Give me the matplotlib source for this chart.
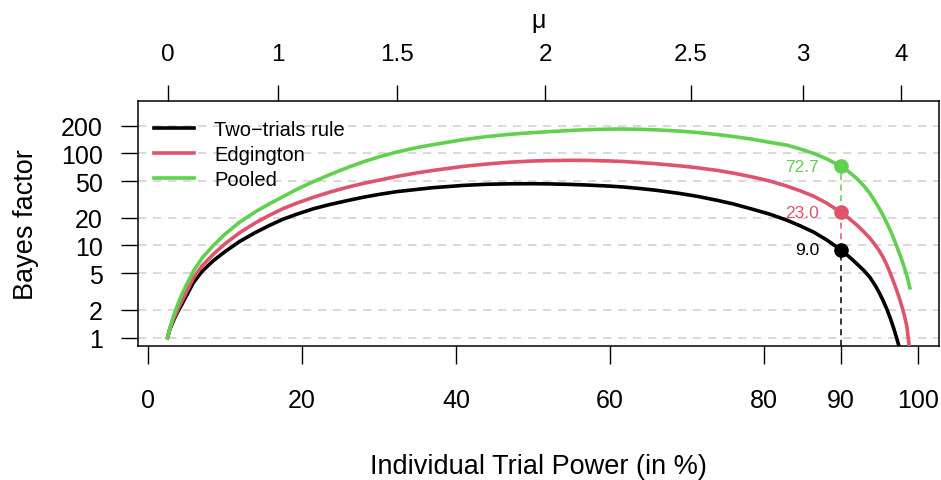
import matplotlib
matplotlib.use("Agg")
import matplotlib.pyplot as plt

plt.rcParams['font.family'] = ['Liberation Sans', 'DejaVu Sans']

# values (power in %, log10 of Bayes factor)
power = [2.5, 2.8, 3.2, 3.7, 4.3, 5.0, 5.85, 7.0, 8.45, 10, 11.9, 13.9, 15.8, 17.5,
         19.3, 21.5, 23.6, 26, 28, 30, 32.3, 35, 37, 41, 44, 47, 50, 52.2, 55, 57,
         60, 61.8, 64, 66, 69.1, 71.3, 74, 76.1, 78.5, 80.8, 83, 84.7, 86.5, 88.2,
         90, 91, 92, 93, 93.8, 94.5, 95, 95.5, 96, 96.5, 96.9, 97.3, 97.7, 98,
         98.3, 98.6, 99.0]
log_bf_two_trials = [0, 0.09, 0.17, 0.26, 0.35, 0.46, 0.595, 0.72, 0.835, 0.935, 1.045, 1.14,
                     1.22, 1.285, 1.34, 1.40, 1.445, 1.49, 1.525, 1.555, 1.585, 1.61, 1.628,
                     1.653, 1.665, 1.67, 1.671, 1.669, 1.663, 1.657, 1.645, 1.635, 1.618,
                     1.6, 1.565, 1.535, 1.49, 1.45, 1.395, 1.34, 1.275, 1.215, 1.145, 1.06,
                     0.954, 0.885, 0.81, 0.73, 0.655, 0.565, 0.49, 0.405, 0.31, 0.2, 0.1,
                     -0.01, -0.13, -0.24, -0.36, -0.5, -0.75]
log_bf_edgington = [0, 0.095, 0.185, 0.28, 0.385, 0.5, 0.645, 0.78, 0.905, 1.02, 1.14, 1.245,
                    1.33, 1.4, 1.46, 1.525, 1.58, 1.635, 1.675, 1.71, 1.75, 1.79, 1.815,
                    1.86, 1.885, 1.905, 1.918, 1.922, 1.925, 1.924, 1.918, 1.912, 1.9,
                    1.888, 1.865, 1.845, 1.815, 1.785, 1.745, 1.7, 1.645, 1.595, 1.535,
                    1.46, 1.362, 1.3, 1.23, 1.15, 1.08, 1.005, 0.945, 0.875, 0.79, 0.69,
                    0.6, 0.51, 0.41, 0.325, 0.235, 0.125, -0.15]
log_bf_pooled = [0, 0.1, 0.215, 0.33, 0.46, 0.58, 0.72, 0.865, 1.0, 1.125, 1.255, 1.365,
                 1.455, 1.53, 1.61, 1.695, 1.77, 1.85, 1.91, 1.963, 2.015, 2.065, 2.095,
                 2.15, 2.183, 2.208, 2.226, 2.237, 2.25, 2.258, 2.264, 2.265, 2.262,
                 2.256, 2.242, 2.228, 2.205, 2.183, 2.155, 2.12, 2.09, 2.05, 2.0,
                 1.94, 1.862, 1.805, 1.735, 1.65, 1.565, 1.475, 1.405, 1.33, 1.245, 1.155,
                 1.075, 0.99, 0.9, 0.83, 0.755, 0.675, 0.54]

labels = ["Two\u2212trials rule", "Edgington", "Pooled"]
colors = ["#000000", "#DF536B", "#61D04F"]

target_power = 90
target_bf = [9.0, 23.0, 72.7]

x_ticks = [0, 20, 40, 60, 80, 90, 100]
y_ticks = [1, 2, 5, 10, 20, 50, 100, 200]
mu_labels = ["0", "1", "1.5", "2", "2.5", "3", "4"]
mu_pos = [2.5, 16.8, 32.3, 51.6, 70.5, 85.1, 97.9]

fig = plt.figure(figsize=(9.41, 4.81), dpi=100)
ax = fig.add_axes([0.1463, 0.2786, 0.998 - 0.1463, 0.7886 - 0.2786])

ax.set_yscale("log")
ax.set_xlim(-1.38, 102.8)
ax.set_ylim(0.81, 374)

for yt in y_ticks:
    ax.axhline(yt, color="#D3D3D3", lw=1.2, ls=(0, (5, 4)), zorder=1)

series = [log_bf_two_trials, log_bf_edgington, log_bf_pooled]
for ys, c, lab in zip(series, colors, labels):
    ax.plot(power, [10 ** v for v in ys], color=c, lw=2.6, label=lab, zorder=3,
            solid_joinstyle="round")

# dashed drop lines at 90% power
bottoms = [0.81, target_bf[0], target_bf[1]]
for bf, lo, c in zip(target_bf, bottoms, colors):
    ax.plot([target_power, target_power], [lo, bf], color=c, lw=1.1, ls=(0, (4, 3)), zorder=2)
for bf, c in zip(target_bf, colors):
    ax.plot(target_power, bf, "o", color=c, ms=9.5, zorder=4)
    ax.text(target_power - 2.8, bf, f"{bf:.1f}", color=c, fontsize=12.5,
            ha="right", va="center", zorder=4)

ax.set_xticks(x_ticks)
ax.set_xticklabels([str(t) for t in x_ticks])
ax.set_yticks(y_ticks)
ax.set_yticklabels([str(t) for t in y_ticks])
ax.minorticks_off()
ax.tick_params(axis="x", length=13, width=1, pad=17, labelsize=18)
ax.tick_params(axis="y", length=12.2, width=1, pad=13, labelsize=18)
for s in ax.spines.values():
    s.set_linewidth(1.1)

ax.set_xlabel("Individual Trial Power (in %)", fontsize=19.5, labelpad=30)
ax.set_ylabel("Bayes factor", fontsize=19.5, labelpad=16)

ax2 = ax.twiny()
ax2.set_xlim(ax.get_xlim())
ax2.set_xticks(mu_pos)
ax2.set_xticklabels(mu_labels)
ax2.tick_params(axis="x", length=11.5, width=1, pad=14, labelsize=17.5)
ax2.set_xlabel("\u03bc", fontsize=18, labelpad=12)
for s in ax2.spines.values():
    s.set_visible(False)

leg = ax.legend(loc="upper left", frameon=False, fontsize=14.5, handlelength=2.0,
                handletextpad=1.0, labelspacing=0.28, borderaxespad=0.4,
                bbox_to_anchor=(0.0, 0.985))

fig.savefig("out.png", dpi=100)
